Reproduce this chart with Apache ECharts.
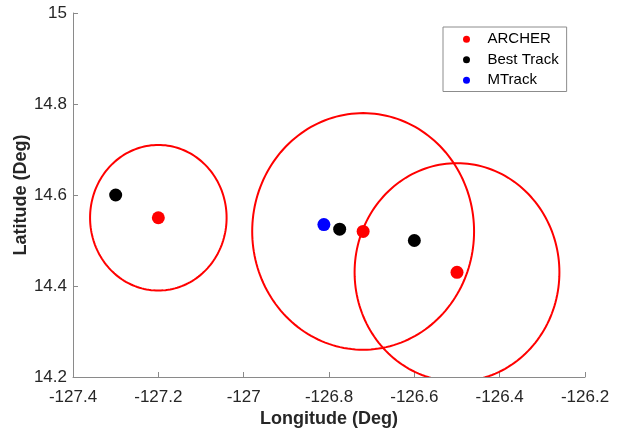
<!DOCTYPE html>
<html>
<head>
<meta charset="utf-8">
<script src="https://cdn.jsdelivr.net/npm/echarts@6/dist/echarts.min.js"></script>
<style>
html,body{margin:0;padding:0;background:#fff;}
#chart{width:623px;height:431px;}
</style>
</head>
<body>
<div id="chart"></div>
<script>
// ARCHER fixes (centre) and their uncertainty radius (deg)
var archerLon = [-127.2, -126.72, -126.5];
var archerLat = [14.55, 14.52, 14.43];
var archerRadius = [0.16, 0.26, 0.24];
// Best Track positions
var bestLon = [-127.3, -126.775, -126.6];
var bestLat = [14.6, 14.525, 14.5];
// MTrack position
var mtrackLon = [-126.812];
var mtrackLat = [14.535];
// axis ticks
var xTicks = [-127.4, -127.2, -127, -126.8, -126.6, -126.4, -126.2];
var yTicks = [14.2, 14.4, 14.6, 14.8, 15];

var FONT = "'Liberation Sans', Arial, Helvetica, sans-serif";
function zip(a, b, c) {
  return a.map(function (v, i) { return c ? [v, b[i], c[i]] : [v, b[i]]; });
}

var chart = echarts.init(document.getElementById('chart'), null, {renderer: 'canvas'});
var option = {
  animation: false,
  backgroundColor: '#ffffff',
  grid: {left: 73, right: 38, top: 13, bottom: 54, containLabel: false, outerBoundsMode: 'none'},
  xAxis: {
    type: 'value',
    min: xTicks[0], max: xTicks[xTicks.length - 1], interval: 0.2,
    name: 'Longitude (Deg)', nameLocation: 'middle', nameGap: 33, nameMoveOverlap: false,
    nameTextStyle: {fontFamily: FONT, fontSize: 18, fontWeight: 'bold', color: '#262626'},
    axisLine: {show: true, onZero: false, lineStyle: {color: '#8a8a8a', width: 1}},
    axisTick: {show: true, inside: true, length: 5, lineStyle: {color: '#8a8a8a'}},
    axisLabel: {fontFamily: FONT, fontSize: 17, color: '#262626', margin: 12,
      formatter: function (v) { return String(Math.round(v * 10) / 10); }},
    splitLine: {show: false}
  },
  yAxis: {
    type: 'value',
    min: yTicks[0], max: yTicks[yTicks.length - 1], interval: 0.2,
    name: 'Latitude (Deg)', nameLocation: 'middle', nameGap: 43, nameMoveOverlap: false,
    nameTextStyle: {fontFamily: FONT, fontSize: 18, fontWeight: 'bold', color: '#262626'},
    axisLine: {show: true, onZero: false, lineStyle: {color: '#8a8a8a', width: 1}},
    axisTick: {show: true, inside: true, length: 5, lineStyle: {color: '#8a8a8a'}},
    axisLabel: {fontFamily: FONT, fontSize: 17, color: '#262626', margin: 6,
      formatter: function (v) { return String(Math.round(v * 10) / 10); }},
    splitLine: {show: false}
  },
  legend: {
    data: ['ARCHER', 'Best Track', 'MTrack'],
    orient: 'vertical',
    left: 443, top: 27,
    padding: [2, 8, 1, 20],
    itemWidth: 32, itemHeight: 7, itemGap: 0,
    icon: 'circle',
    borderColor: '#8c8c8c', borderWidth: 1,
    backgroundColor: '#ffffff',
    itemStyle: {opacity: 1},
    textStyle: {fontFamily: FONT, fontSize: 15, color: '#000000', lineHeight: 20.5}
  },
  series: [
    {
      name: 'ARCHER circles',
      type: 'custom',
      z: 1,
      clip: true,
      encode: {x: 0, y: 1},
      data: zip(archerLon, archerLat, archerRadius),
      renderItem: function (params, api) {
        var lon = api.value(0), lat = api.value(1), r = api.value(2);
        var pts = [];
        for (var a = 0; a <= 360; a += 2) {
          var t = a * Math.PI / 180;
          pts.push(api.coord([lon + r * Math.cos(t), lat + r * Math.sin(t)]));
        }
        var cs = params.coordSys;
        return {
          type: 'group',
          clipPath: {type: 'rect', shape: {x: cs.x, y: cs.y, width: cs.width, height: cs.height}},
          children: [{
            type: 'polyline',
            shape: {points: pts},
            style: {stroke: '#ff0000', lineWidth: 2, fill: null}
          }]
        };
      }
    },
    {
      name: 'ARCHER', type: 'scatter', z: 3, symbol: 'circle', symbolSize: 13,
      itemStyle: {color: '#ff0000', opacity: 1},
      data: zip(archerLon, archerLat)
    },
    {
      name: 'Best Track', type: 'scatter', z: 3, symbol: 'circle', symbolSize: 13,
      itemStyle: {color: '#000000', opacity: 1},
      data: zip(bestLon, bestLat)
    },
    {
      name: 'MTrack', type: 'scatter', z: 3, symbol: 'circle', symbolSize: 13,
      itemStyle: {color: '#0000ff', opacity: 1},
      data: zip(mtrackLon, mtrackLat)
    }
  ]
};
chart.setOption(option);
</script>
</body>
</html>
